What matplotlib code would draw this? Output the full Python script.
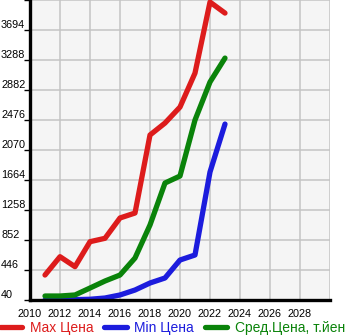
import matplotlib
matplotlib.use("Agg")
import matplotlib.pyplot as plt
import matplotlib.transforms as mtransforms

plt.rcParams["font.family"] = ["Liberation Sans", "DejaVu Sans"]

years = [2011, 2012, 2013, 2014, 2015, 2016, 2017, 2018, 2019, 2020, 2021, 2022, 2023]
max_price = [378, 626, 491, 829, 875, 1150, 1217, 2273, 2435, 2651, 3111, 4072, 3923]
min_price = [40, 40, 45, 50, 67, 108, 175, 270, 338, 581, 649, 1772, 2421]
avg_price = [94, 94, 108, 202, 297, 378, 608, 1055, 1623, 1718, 2475, 2990, 3314]

y_ticks = [40, 446, 852, 1258, 1664, 2070, 2476, 2882, 3288, 3694, 4100]
x_ticks = list(range(2010, 2031, 2))
x_labels = [str(v) for v in range(2010, 2029, 2)]

labels = ["Max Цена", "Min Цена", "Сред.Цена, т.йен"]
colors = ["#dd1c1c", "#1c1cdd", "#0a830a"]

W, H = 345, 335
fig = plt.figure(figsize=(W / 100, H / 100), dpi=100)
ax = fig.add_axes([30 / W, 35 / H, 300 / W, 300 / H])
ax.set_facecolor("#f5f5f5")

lines = []
for vals, c, lab in zip([max_price, min_price, avg_price], colors, labels):
    ln, = ax.plot(years, vals, color=c, lw=3.8, solid_capstyle="round",
                  solid_joinstyle="round", label=lab, zorder=3)
    lines.append(ln)

ax.set_xlim(2010, 2030)
ax.set_ylim(40, 4100)
ax.set_xticks(x_ticks)
ax.set_yticks(y_ticks)
ax.grid(True, color="#c4c4c4", lw=1.1, zorder=0)
ax.set_axisbelow(True)

for s in ["top", "right"]:
    ax.spines[s].set_visible(False)
for s in ["left", "bottom"]:
    ax.spines[s].set_linewidth(2.4)
    ax.spines[s].set_color("black")
    ax.spines[s].set_zorder(4)

ax.tick_params(axis="x", length=0, labelbottom=False)
ax.tick_params(axis="y", length=4, width=1, color="black", labelleft=False)

# x labels under the axis
for v, t in zip(range(2010, 2029, 2), x_labels):
    ax.text(v, -0.03, t, transform=ax.get_xaxis_transform(), ha="center",
            va="top", fontsize=7.8, color="black")

# y labels, left-aligned at the figure edge, sitting on their gridlines
ytrans = mtransforms.blended_transform_factory(fig.transFigure, ax.transData)
for v in y_ticks[:-1]:
    ax.text(1 / W, v, str(v), transform=ytrans, ha="left", va="bottom",
            fontsize=7.8, color="black")

leg = fig.legend(handles=lines, labels=labels, loc="lower left",
                 bbox_to_anchor=(-3 / W, -3 / H), ncol=3, frameon=False,
                 fontsize=10, handlelength=1.6, handletextpad=0.55,
                 columnspacing=0.8, borderpad=0.2, borderaxespad=0,
                 labelcolor="linecolor")

fig.savefig("out.png", dpi=100)
